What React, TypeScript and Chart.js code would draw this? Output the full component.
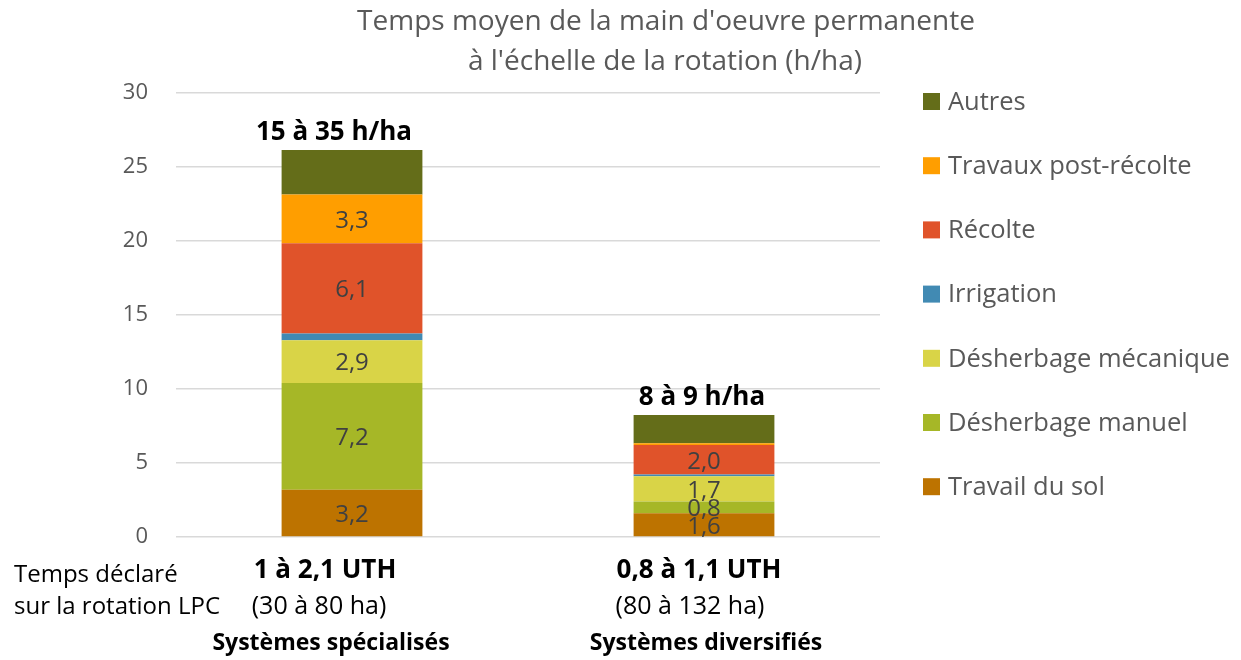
import React, { useEffect, useRef } from 'react';
import { Chart, registerables } from 'chart.js';

Chart.register(...registerables);

// ---- Data ----
const categories = ['Systèmes spécialisés', 'Systèmes diversifiés'];
const uthLabels = ['1 à 2,1 UTH', '0,8 à 1,1 UTH'];
const surfaceLabels = ['(30 à 80 ha)', '(80 à 132 ha)'];
const totalLabels = ['15 à 35 h/ha', '8 à 9 h/ha'];
const sideLabels = ['Temps déclaré', 'sur la rotation LPC'];
const titleLines = ["Temps moyen de la main d'oeuvre permanente", "à l'échelle de la rotation (h/ha)"];

const travailDuSol = [3.2, 1.6];
const desherbageManuel = [7.2, 0.8];
const desherbageMecanique = [2.9, 1.7];
const irrigation = [0.45, 0.12];
const recolte = [6.1, 2.0];
const postRecolte = [3.3, 0.12];
const autres = [3.0, 1.9];

const travailDuSolLabels = ['3,2', '1,6'];
const desherbageManuelLabels = ['7,2', '0,8'];
const desherbageMecaniqueLabels = ['2,9', '1,7'];
const irrigationLabels = ['', ''];
const recolteLabels = ['6,1', '2,0'];
const postRecolteLabels = ['3,3', ''];
const autresLabels = ['', ''];

const yTicks = [0, 5, 10, 15, 20, 25, 30];

const FONT = "'Open Sans', sans-serif";

const seriesDefs = [
  { label: 'Travail du sol', data: travailDuSol, labels: travailDuSolLabels, color: '#BD7300' },
  { label: 'Désherbage manuel', data: desherbageManuel, labels: desherbageManuelLabels, color: '#A6B727' },
  { label: 'Désherbage mécanique', data: desherbageMecanique, labels: desherbageMecaniqueLabels, color: '#D9D447' },
  { label: 'Irrigation', data: irrigation, labels: irrigationLabels, color: '#418AB3' },
  { label: 'Récolte', data: recolte, labels: recolteLabels, color: '#E0532A' },
  { label: 'Travaux post-récolte', data: postRecolte, labels: postRecolteLabels, color: '#FF9E00' },
  { label: 'Autres', data: autres, labels: autresLabels, color: '#646D19' },
];

const annotationsPlugin = {
  id: 'annotations',
  afterDatasetsDraw(chart: any) {
    const ctx = chart.ctx;
    ctx.save();
    // segment labels
    ctx.font = `24px ${FONT}`;
    ctx.fillStyle = '#404040';
    ctx.textAlign = 'center';
    ctx.textBaseline = 'middle';
    chart.data.datasets.forEach((ds: any, di: number) => {
      const meta = chart.getDatasetMeta(di);
      meta.data.forEach((el: any, i: number) => {
        const txt = ds.segLabels[i];
        if (!txt) return;
        ctx.fillText(txt, el.x, (el.y + el.base) / 2 + 2);
      });
    });
    // totals above bars
    const topMeta = chart.getDatasetMeta(chart.data.datasets.length - 1);
    ctx.font = `bold 26px ${FONT}`;
    ctx.fillStyle = '#000000';
    ctx.textBaseline = 'alphabetic';
    const totalDx = [-18, -2];
    topMeta.data.forEach((el: any, i: number) => {
      ctx.fillText(totalLabels[i], el.x + totalDx[i], el.y - 10);
    });
    ctx.restore();
  },
  afterDraw(chart: any) {
    const ctx = chart.ctx;
    const xs = chart.scales.x;
    ctx.save();
    // title
    ctx.fillStyle = '#595959';
    ctx.font = `28px ${FONT}`;
    ctx.textAlign = 'center';
    ctx.textBaseline = 'middle';
    ctx.fillText(titleLines[0], 666, 22);
    ctx.fillText(titleLines[1], 665, 62);

    // legend (reverse order)
    ctx.font = `25.5px ${FONT}`;
    ctx.textAlign = 'left';
    const items = chart.data.datasets.slice().reverse();
    items.forEach((ds: any, i: number) => {
      const cy = 101.5 + i * 64.2;
      ctx.fillStyle = ds.backgroundColor;
      ctx.fillRect(923, cy - 8.5, 17, 17);
      ctx.fillStyle = '#595959';
      ctx.fillText(ds.label, 948, cy + 1);
    });

    // category labels below
    ctx.fillStyle = '#000000';
    ctx.textAlign = 'center';
    const dx = [-27, -5];
    const dx2 = [-33, -14];
    const dx3 = [-21, 2];
    categories.forEach((c, i) => {
      const x = xs.getPixelForValue(i);
      ctx.font = `bold 26px ${FONT}`;
      ctx.fillText(uthLabels[i], x + dx[i], 571);
      ctx.font = `25px ${FONT}`;
      ctx.fillText(surfaceLabels[i], x + dx2[i], 607);
      ctx.font = `bold 23px ${FONT}`;
      ctx.fillText(c, x + dx3[i], 643);
    });
    ctx.font = `24px ${FONT}`;
    ctx.textAlign = 'left';
    ctx.fillText(sideLabels[0], 14, 575);
    ctx.fillText(sideLabels[1], 14, 607);
    ctx.restore();
  },
};

export default function App() {
  const ref = useRef<HTMLCanvasElement>(null);
  useEffect(() => {
    if (!ref.current) return;
    const chart = new Chart(ref.current, {
      type: 'bar',
      data: {
        labels: categories,
        datasets: seriesDefs.map((s) => ({
          label: s.label,
          data: s.data,
          segLabels: s.labels,
          backgroundColor: s.color,
          borderWidth: 0,
          barPercentage: 0.4,
          categoryPercentage: 1,
        })) as any,
      },
      options: {
        responsive: false,
        animation: false,
        devicePixelRatio: 1,
        layout: { padding: { left: 0, right: 361, top: 93, bottom: 123 } },
        plugins: {
          legend: { display: false },
          title: { display: false },
          tooltip: { enabled: false },
        },
        scales: {
          x: {
            stacked: true,
            ticks: { display: false },
            grid: { display: false },
            border: { display: false },
            afterFit: (s: any) => { s.height = 0; },
          },
          y: {
            stacked: true,
            min: 0,
            max: 30,
            afterBuildTicks: (s: any) => { s.ticks = yTicks.map((v) => ({ value: v })); },
            ticks: {
              padding: 28,
              color: '#595959',
              font: { family: FONT, size: 22 },
            },
            grid: { color: '#d9d9d9', lineWidth: 1.5, drawTicks: false },
            border: { display: false },
            afterFit: (s: any) => { s.width = 176; },
          },
        },
      },
      plugins: [annotationsPlugin],
    });
    return () => chart.destroy();
  }, []);
  return (
    <div style={{ position: 'fixed', left: 0, top: 0, width: 1241, height: 660, background: '#fff' }}>
      <canvas ref={ref} width={1241} height={660} style={{ width: 1241, height: 660 }} />
    </div>
  );
}
